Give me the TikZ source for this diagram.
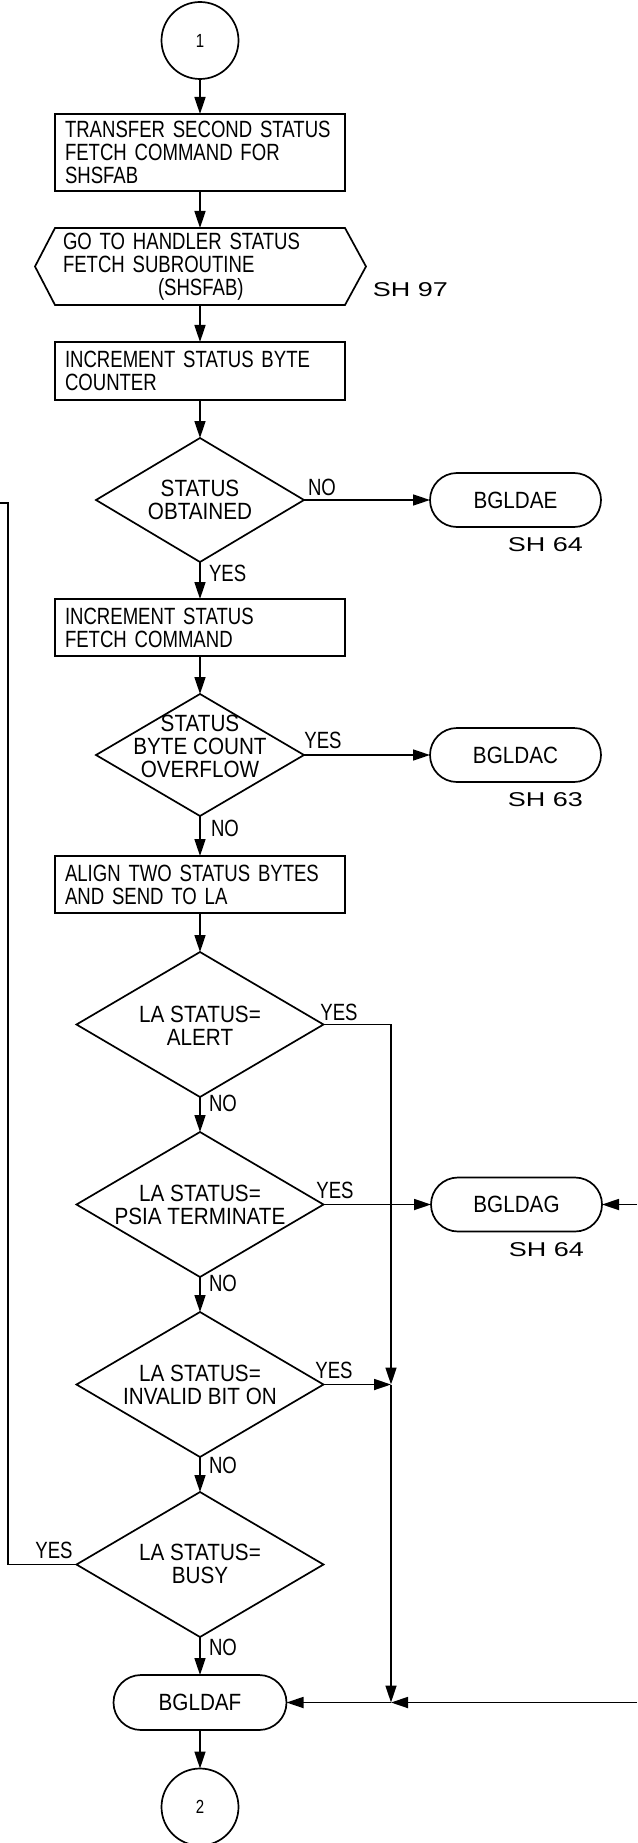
\documentclass[tikz,border=0pt]{standalone}
\usepackage{fontspec}
\setmainfont{Liberation Sans}[FakeStretch=0.79]
\newfontfamily\dfam{Liberation Sans}[FakeStretch=0.88]
\newfontfamily\shfam{Liberation Sans}[FakeStretch=1.35]
\usetikzlibrary{arrows.meta,shapes.geometric,shapes.misc}
\newcommand\mainlabfont{\fontsize{23.5pt}{23pt}\selectfont}
\newcommand\declabfont{\dfam\fontsize{23.5pt}{23pt}\selectfont}
\newcommand\shlabfont{\shfam\fontsize{20pt}{22pt}\selectfont}
\begin{document}
\begin{tikzpicture}[x=1pt,y=-1pt,
  every node/.style={inner sep=0pt, outer sep=0pt},
  ln/.style={line width=1.7pt},
  arr/.style={line width=1.7pt, -{Triangle[length=17pt,width=11pt]}},
  procbox/.style={draw, line width=1.7pt, rectangle, minimum width=290pt, text width=270pt, inner xsep=10pt, align=left, font=\mainlabfont},
  hexbox/.style={rectangle, minimum width=290pt, minimum height=77pt, text width=274pt, inner xsep=8pt, align=left, font=\mainlabfont},
  decis/.style={draw, line width=1.7pt, diamond},
  dtext/.style={align=center, font=\declabfont},
  term/.style={draw, line width=1.7pt, rounded rectangle, minimum width=171pt, minimum height=54pt, font=\declabfont},
  conn/.style={draw, line width=1.7pt, circle, minimum size=77pt, font=\fontsize{19pt}{20pt}\selectfont},
  lab/.style={font=\mainlabfont},
  sh/.style={font=\shlabfont}
]
\fill[white] (0,0) rectangle (637,1843);
\useasboundingbox (0,0) rectangle (637,1843);

% main column
\node[conn] (c1) at (200,40.5) {1};
\node[procbox, minimum height=77pt] (b1) at (200,152.5)
  {\mbox{TRANSFER SECOND STATUS}\\\mbox{FETCH COMMAND FOR}\\\mbox{SHSFAB}};
\node[hexbox] (hex) at (200,266.5)
  {\mbox{GO TO HANDLER STATUS}\\\mbox{FETCH SUBROUTINE}\\\hspace*{95pt}\mbox{(SHSFAB)}};
\draw[ln] (hex.north west) -- (hex.north east) -- ([xshift=21pt]hex.east)
  -- (hex.south east) -- (hex.south west) -- ([xshift=-20pt]hex.west) -- cycle;
\node[sh] (sh97) at (410.5,290) {SH 97};

\node[procbox, minimum height=58pt] (b2) at (200,371)
  {\mbox{INCREMENT STATUS BYTE}\\\mbox{COUNTER}};

\node[decis, minimum width=208pt, minimum height=124pt] (d1) at (200,500) {};
\node[dtext] (d1t) at (200,500) {STATUS\\OBTAINED};
\node[term] (bgldae) at (515.5,500) {BGLDAE};
\node[sh] (sh64a) at (545.5,545) {SH 64};

\node[procbox, minimum height=57pt] (b3) at (200,627.5)
  {\mbox{INCREMENT STATUS}\\\mbox{FETCH COMMAND}};

\node[decis, minimum width=208pt, minimum height=122pt] (d2) at (200,755) {};
\node[dtext] (d2t) at (200,746) {STATUS\\BYTE COUNT\\OVERFLOW};
\node[term] (bgldac) at (515.5,755) {BGLDAC};
\node[sh] (sh63) at (545.5,800) {SH 63};

\node[procbox, minimum height=57pt] (b4) at (200,884.5)
  {\mbox{ALIGN TWO STATUS BYTES}\\\mbox{AND SEND TO LA}};

\node[decis, minimum width=247pt, minimum height=145pt] (d3) at (200,1024.5) {};
\node[dtext] (d3t) at (200,1026) {LA STATUS=\\ALERT};

\node[decis, minimum width=247pt, minimum height=145pt] (d4) at (200,1204.5) {};
\node[dtext] (d4t) at (200,1205) {LA STATUS=\\PSIA TERMINATE};
\node[term] (bgldag) at (516.5,1204.5) {BGLDAG};
\node[sh] (sh64b) at (546.5,1250) {SH 64};

\node[decis, minimum width=247pt, minimum height=145pt] (d5) at (200,1384.5) {};
\node[dtext] (d5t) at (200,1385) {LA STATUS=\\INVALID BIT ON};

\node[decis, minimum width=247pt, minimum height=145pt] (d6) at (200,1564.5) {};
\node[dtext] (d6t) at (200,1564) {LA STATUS=\\BUSY};

\node[term, minimum width=173pt, minimum height=55pt] (bgldaf) at (200,1702.5) {BGLDAF};
\node[conn] (c2) at (200,1807) {2};

% labels
\node[lab] (no1) at (322,487) {NO};
\node[lab, anchor=west] (yes1) at (209,573) {YES};
\node[lab] (yes2) at (323,740) {YES};
\node[lab, anchor=west] (no2) at (211,828) {NO};
\node[lab] (yes3) at (339,1012) {YES};
\node[lab, anchor=west] (no3) at (209,1103) {NO};
\node[lab] (yes4) at (335,1190) {YES};
\node[lab, anchor=west] (no4) at (209,1283) {NO};
\node[lab] (yes5) at (334,1370) {YES};
\node[lab, anchor=west] (no5) at (209,1465) {NO};
\node[lab] (yes6) at (54,1550) {YES};
\node[lab, anchor=west] (no6) at (209,1647) {NO};

% coordinates for free ends / junctions
\coordinate (j1) at (391,1384.5);
\coordinate (j2) at (391,1702.5);
\coordinate (rin1) at (637,1204.5);
\coordinate (rin2) at (637,1702.5);
\coordinate (lt) at (8,503);
\coordinate (lend) at (0,503);

% connectors
\draw[arr] (c1.south) -- (b1.north);
\draw[arr] (b1.south) -- (hex.north);
\draw[arr] (hex.south) -- (b2.north);
\draw[arr] (b2.south) -- (d1.north);
\draw[arr] (d1.east) -- (bgldae.west);
\draw[arr] (d1.south) -- (b3.north);
\draw[arr] (b3.south) -- (d2.north);
\draw[arr] (d2.east) -- (bgldac.west);
\draw[arr] (d2.south) -- (b4.north);
\draw[arr] (b4.south) -- (d3.north);
\draw[arr] (d3.east) -| (j1);
\draw[arr] (d3.south) -- (d4.north);
\draw[arr] (d4.east) -- (bgldag.west);
\draw[arr] (rin1) -- (bgldag.east);
\draw[arr] (d4.south) -- (d5.north);
\draw[arr] (d5.east) -- (j1);
\draw[arr] (j1) -- (j2);
\draw[arr] (d5.south) -- (d6.north);
\draw[ln] (d6.west) -| (lt) -- (lend);
\draw[arr] (d6.south) -- (bgldaf.north);
\draw[arr] (rin2) -- (j2);
\draw[arr] (j2) -- (bgldaf.east);
\draw[arr] (bgldaf.south) -- (c2.north);
\end{tikzpicture}
\end{document}
